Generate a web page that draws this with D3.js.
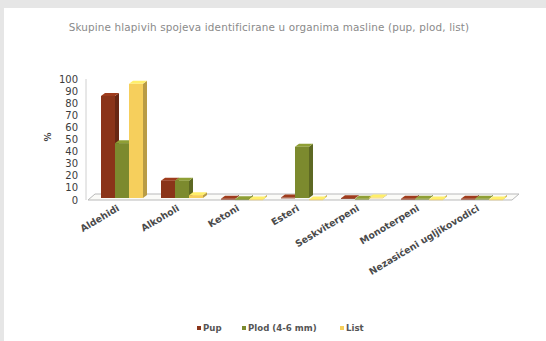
<!DOCTYPE html>
<html>
<head>
<meta charset="utf-8">
<script src="https://cdn.jsdelivr.net/npm/d3@7"></script>
<style>
  html,body{margin:0;padding:0;background:#e6e6e6;}
  svg{display:block;font-family:"DejaVu Sans",Arial,sans-serif;}
</style>
</head>
<body>
<div id="chart"></div>
<script>
// values (%)
var categories=["Aldehidi","Alkoholi","Ketoni","Esteri","Seskviterpeni","Monoterpeni","Nezasićeni ugljikovodici"];
var seriesNames=["Pup","Plod (4-6 mm)","List"];
var pup=[86,16,1,2,1.5,1,1];
var plod=[47,16,0.6,44,1,1,1];
var list=[96,4,0.5,0.5,2,0.5,0.5];
var yTicks=[0,10,20,30,40,50,60,70,80,90,100];
var colors=["#8a3419","#7c8a2e","#f6cf5c"];

var W=546,H=341;
var svg=d3.select("#chart").append("svg").attr("width",W).attr("height",H);
// grey frame top/left, white panel
svg.append("rect").attr("x",4).attr("y",8).attr("width",W-4).attr("height",H-8).attr("fill","#fff");

svg.append("text").attr("x",269).attr("y",31).attr("text-anchor","middle")
   .style("font-size","10.4px").style("letter-spacing","0.15px").style("fill","#8a8a8a")
   .text("Skupine hlapivih spojeva identificirane u organima masline (pup, plod, list)");

var x0=d3.scaleBand().domain(categories).range([92,512]).paddingInner(0).paddingOuter(0);
var y=d3.scaleLinear().domain([0,100]).range([200,79]);
var dX=7,dY=-6;      // floor depth
var bdx=4,bdy=-3;    // bar side depth
var barW=14;

// floor
var g=svg.append("g");
var fl=x0.range()[0]-4, fr=x0.range()[1];
g.append("path").attr("d","M"+fl+","+y(0)+"L"+fr+","+y(0)+"L"+(fr+dX)+","+(y(0)+dY)+"L"+(fl+dX)+","+(y(0)+dY)+"Z")
 .attr("fill","#fbfbf8").attr("stroke","#b9b9b9").attr("stroke-width",1);
// y axis line
g.append("line").attr("x1",86).attr("x2",86).attr("y1",y(100)).attr("y2",y(0)).attr("stroke","#d0d0d0");

// y ticks
svg.append("g").selectAll("text").data(yTicks).join("text")
  .attr("x",78).attr("y",function(d){return y(d)+3.5;}).attr("text-anchor","end")
  .style("font-size","10px").style("fill","#3c3c3c").text(function(d){return d;});
svg.append("text").attr("transform","translate(51,137) rotate(-90)").attr("text-anchor","middle")
  .style("font-size","9px").style("font-weight","bold").style("fill","#444").text("%");

var rows=categories.map(function(c,i){return [pup[i],plod[i],list[i]];});
var x1=d3.scaleBand().domain([0,1,2]).range([0,barW*3]);

function shade(c,k){return d3.color(c).darker(k).formatHex();}

var bars=svg.append("g");
rows.forEach(function(vals,ci){
  var gx=x0(categories[ci])+(x0.bandwidth()-barW*3-bdx)/2+2;
  vals.forEach(function(v,si){
    var xl=gx+x1(si), xr=xl+barW, yt=y(v), yb=y(0)-2;
    var c=colors[si];
    var bg=bars.append("g");
    bg.append("path").attr("d","M"+xr+","+yb+"L"+(xr+bdx)+","+(yb+bdy)+"L"+(xr+bdx)+","+(yt+bdy)+"L"+xr+","+yt+"Z")
      .attr("fill",shade(c,0.8));
    bg.append("path").attr("d","M"+xl+","+yt+"L"+xr+","+yt+"L"+(xr+bdx)+","+(yt+bdy)+"L"+(xl+bdx)+","+(yt+bdy)+"Z")
      .attr("fill",d3.color(c).brighter(0.4).formatHex());
    bg.append("rect").attr("x",xl).attr("y",yt).attr("width",barW).attr("height",Math.max(0.8,yb-yt))
      .attr("fill",c);
  });
});

// category labels
svg.append("g").selectAll("text").data(categories).join("text")
  .attr("transform",function(d){var cx=x0(d)+x0.bandwidth()/2-2;return "translate("+cx+",210) rotate(-31)";})
  .attr("text-anchor","end").style("font-size","9.4px").style("font-weight","bold").style("fill","#4a4a4a")
  .text(function(d){return d;});

// legend
var legX=[197,242,340];
var leg=svg.append("g");
seriesNames.forEach(function(n,i){
  leg.append("rect").attr("x",legX[i]).attr("y",326).attr("width",4).attr("height",4).attr("fill",colors[i]);
  leg.append("text").attr("x",legX[i]+6).attr("y",331).style("font-size","8.6px").style("font-weight","bold").style("fill","#555").text(n);
});
</script>
</body>
</html>
